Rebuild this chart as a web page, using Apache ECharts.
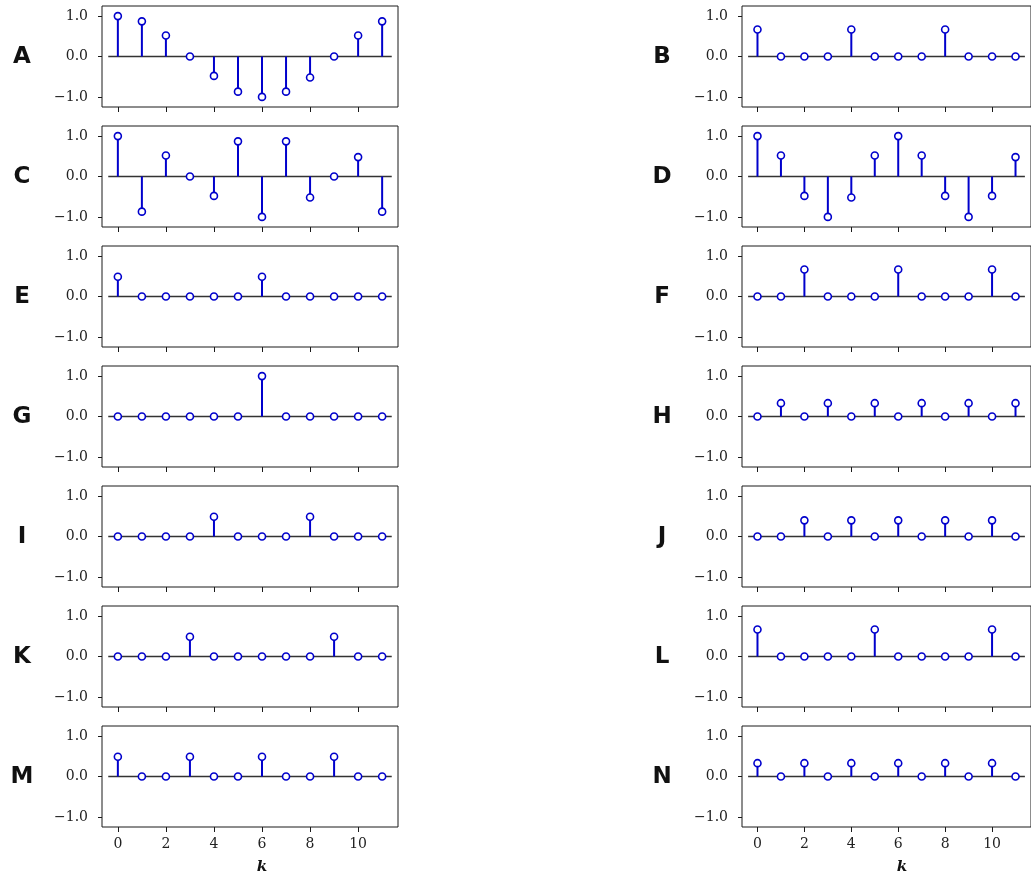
<!DOCTYPE html>
<html><head><meta charset="utf-8">
<script src="https://cdn.jsdelivr.net/npm/echarts@6/dist/echarts.min.js"></script>
<style>html,body{margin:0;padding:0;background:#fff}#c{width:1031px;height:878px}</style>
</head><body><div id="c"></div>
<script>
// ---- data ----
const k = [0, 1, 2, 3, 4, 5, 6, 7, 8, 9, 10, 11];
const xTickValues = [0, 2, 4, 6, 8, 10];
const yTickValues = [-1, 0, 1];
const panelLetters = ['A','B','C','D','E','F','G','H','I','J','K','L','M','N'];
const xLabel = 'k';
const baselineRange = [-0.4, 11.4];

const A = [1, 0.87, 0.52, 0, -0.48, -0.87, -1, -0.87, -0.52, 0, 0.52, 0.87];
const B = [0.67, 0, 0, 0, 0.67, 0, 0, 0, 0.67, 0, 0, 0];
const C = [1, -0.87, 0.52, 0, -0.48, 0.87, -1, 0.87, -0.52, 0, 0.48, -0.87];
const D = [1, 0.52, -0.48, -1, -0.52, 0.52, 1, 0.52, -0.48, -1, -0.48, 0.48];
const E = [0.49, 0, 0, 0, 0, 0, 0.49, 0, 0, 0, 0, 0];
const F = [0, 0, 0.67, 0, 0, 0, 0.67, 0, 0, 0, 0.67, 0];
const G = [0, 0, 0, 0, 0, 0, 1, 0, 0, 0, 0, 0];
const H = [0, 0.33, 0, 0.33, 0, 0.33, 0, 0.33, 0, 0.33, 0, 0.33];
const I = [0, 0, 0, 0, 0.49, 0, 0, 0, 0.49, 0, 0, 0];
const J = [0, 0, 0.4, 0, 0.4, 0, 0.4, 0, 0.4, 0, 0.4, 0];
const K = [0, 0, 0, 0.49, 0, 0, 0, 0, 0, 0.49, 0, 0];
const L = [0.67, 0, 0, 0, 0, 0.67, 0, 0, 0, 0, 0.67, 0];
const M = [0.49, 0, 0, 0.49, 0, 0, 0.49, 0, 0, 0.49, 0, 0];
const N = [0.33, 0, 0.33, 0, 0.33, 0, 0.33, 0, 0.33, 0, 0.33, 0];
const panelData = [A, B, C, D, E, F, G, H, I, J, K, L, M, N];

// ---- layout / style ----
const BLUE = '#0000cc';
const FRAME = '#1a1a1a';
const SERIF = '"DejaVu Serif", "Liberation Serif", serif';
const colLeft = [102, 742];
const rowTop0 = 6, rowPitch = 120, gridW = 296, gridH = 101;

const grids = [], xAxes = [], yAxes = [], series = [], graphics = [];
panelData.forEach((vals, i) => {
  const col = i % 2, row = Math.floor(i / 2);
  const top = rowTop0 + row * rowPitch;
  const isBottom = row === 6;
  grids.push({left: colLeft[col], top: top, width: gridW, height: gridH,
    show: true, borderColor: FRAME, borderWidth: 1, backgroundColor: 'transparent', containLabel: false});
  xAxes.push({type: 'value', gridIndex: i, min: -0.66, max: 11.66, position: 'bottom',
    axisLine: {show: false, onZero: false}, splitLine: {show: false},
    axisTick: {show: true, inside: false, length: 5, customValues: xTickValues, lineStyle: {color: FRAME, width: 1}},
    axisLabel: {show: isBottom, customValues: xTickValues, margin: 10, color: '#222',
      fontFamily: SERIF, fontSize: 14}
  });
  yAxes.push({type: 'value', gridIndex: i, min: -1.25, max: 1.25, position: 'left',
    axisLine: {show: false, onZero: false}, splitLine: {show: false},
    axisTick: {show: true, inside: false, length: 4, customValues: yTickValues, lineStyle: {color: FRAME, width: 1}},
    axisLabel: {show: true, customValues: yTickValues, margin: 14, color: '#222',
      fontFamily: SERIF, fontSize: 14,
      formatter: v => (v < 0 ? '\u2212' : '') + Math.abs(v).toFixed(1)}
  });
  // baseline
  series.push({type: 'line', xAxisIndex: i, yAxisIndex: i, silent: true, symbol: 'none',
    data: [[baselineRange[0], 0], [baselineRange[1], 0]],
    lineStyle: {color: '#333', width: 1.3}, z: 1});
  // stems
  series.push({type: 'custom', xAxisIndex: i, yAxisIndex: i, silent: true, z: 2,
    data: k.map((x, j) => [x, vals[j]]),
    renderItem: (params, api) => {
      const p0 = api.coord([api.value(0), 0]);
      const p1 = api.coord([api.value(0), api.value(1)]);
      return {type: 'line', shape: {x1: p0[0], y1: p0[1], x2: p1[0], y2: p1[1]},
        style: {stroke: BLUE, lineWidth: 2}};
    }});
  // markers
  series.push({type: 'scatter', xAxisIndex: i, yAxisIndex: i, silent: true, z: 3,
    symbol: 'circle', symbolSize: 7,
    data: k.map((x, j) => [x, vals[j]]),
    itemStyle: {color: '#fff', borderColor: BLUE, borderWidth: 1.6, opacity: 1}});
  // panel letter
  graphics.push({type: 'text', x: (col ? 662 : 22), y: top + 51,
    style: {text: panelLetters[i], font: 'bold 23px "DejaVu Sans", sans-serif',
      fill: '#111', textAlign: 'center', textVerticalAlign: 'middle'}});
});
[262, 902].forEach(x => {
  graphics.push({type: 'text', x: x, y: 867,
    style: {text: xLabel, font: 'italic bold 15px ' + SERIF, fill: '#111',
      textAlign: 'center', textVerticalAlign: 'middle'}});
});

const chart = echarts.init(document.getElementById('c'), null, {renderer: 'canvas'});
chart.setOption({
  animation: false,
  backgroundColor: '#fff',
  grid: grids, xAxis: xAxes, yAxis: yAxes, series: series, graphic: graphics
});
</script></body></html>
